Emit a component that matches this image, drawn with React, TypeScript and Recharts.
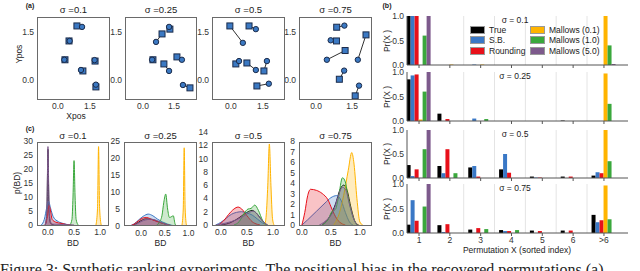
import React from 'react';
import { ScatterChart, Scatter, XAxis, YAxis, ComposedChart, Area, BarChart, Bar, ReferenceLine } from 'recharts';

const FONT = '"Liberation Sans", Arial, Helvetica, sans-serif';
const TICK = { fontSize: 8.5, fill: '#333', fontFamily: FONT };

// ---------- shared ----------
const sigmaTitles = ['σ =0.1', 'σ =0.25', 'σ =0.5', 'σ =0.75'];
const sigmaTitlesB = ['σ = 0.1', 'σ = 0.25', 'σ = 0.5', 'σ = 0.75'];
const seriesKeys = ['tr', 'sb', 'rd', 'm01', 'm1', 'm5'];
const seriesNames = ['True', 'S.B.', 'Rounding', 'Mallows (0.1)', 'Mallows (1.0)', 'Mallows (5.0)'];
const seriesColors = ['#000000', '#3a78c6', '#e8101a', '#ffb400', '#3aa83c', '#7d5a8c'];

// ---------- (a) positions ----------
const posTicks = [0, 1.5];
const trueXs = [
  [0.89, 0.52, 0.33, 1.74, 1.17, 1.78],
  [0.92, 1.30, 0.48, 1.01, 1.64, 2.27],
  [-0.05, 0.85, 0.23, 0.75, 1.55, 1.22],
  [0.86, 0.85, 1.21, 2.08, 0.97, 1.63],
];
const trueYs = [
  [1.69, 1.22, 0.63, 0.59, 0.28, -0.22],
  [1.44, 1.59, 0.63, 0.50, 0.72, -0.25],
  [1.69, 1.69, 0.50, 0.53, 0.28, -0.19],
  [1.65, 1.22, 0.92, 1.41, 0.02, -0.50],
];
const estXs = [
  [1.13, 0.55, 0.30, 1.72, 1.08, 1.78],
  [0.63, 1.26, 0.44, 1.26, 1.88, 1.93],
  [0.56, 1.17, 0.38, 1.17, 1.69, 1.78],
  [1.18, 0.61, 0.45, 1.74, 1.17, 1.79],
];
const estYs = [
  [1.66, 1.22, 0.63, 0.62, 0.31, -0.15],
  [1.19, 1.66, 0.63, 0.28, 0.63, -0.16],
  [1.16, 1.59, 0.59, 0.31, 0.59, -0.12],
  [1.70, 1.24, 0.63, 0.63, 0.29, -0.18],
];

// ---------- (c) BD densities: [BD, density] ----------
const kdeTrue = [
  [[-0.05, 0], [-0.02, 4], [0, 27], [0.02, 5], [0.05, 0.6], [0.12, 0]],
  [[-0.2, 0], [-0.1, 0.7], [0, 1.6], [0.1, 2.1], [0.2, 2.0], [0.3, 1.6], [0.4, 1.1], [0.5, 0.6], [0.6, 0.2], [0.7, 0]],
  [[0, 0], [0.2, 0.4], [0.35, 1.1], [0.5, 1.9], [0.6, 2.2], [0.68, 1.8], [0.78, 0.8], [0.88, 0]],
  [[0.35, 0], [0.48, 0.8], [0.58, 2.0], [0.66, 3.4], [0.72, 3.8], [0.78, 3.3], [0.85, 1.6], [0.92, 0.3], [0.98, 0]],
];
const kdeSB = [
  [[-0.13, 0], [-0.07, 2], [-0.02, 6.5], [0.01, 8.5], [0.05, 6], [0.1, 3], [0.2, 1.2], [0.3, 0.5], [0.4, 0]],
  [[-0.25, 0], [-0.15, 0.6], [-0.05, 1.8], [0.05, 2.9], [0.15, 3.5], [0.25, 3.0], [0.35, 2.0], [0.45, 1.2], [0.55, 0.6], [0.65, 0.2], [0.75, 0]],
  [[-0.1, 0], [0, 0.4], [0.1, 1.0], [0.2, 1.6], [0.3, 1.9], [0.4, 2.0], [0.5, 1.8], [0.6, 1.5], [0.7, 0.9], [0.8, 0.3], [0.9, 0]],
  [[0, 0], [0.1, 0.5], [0.25, 1.3], [0.4, 2.1], [0.5, 2.6], [0.6, 2.8], [0.68, 2.3], [0.75, 1.2], [0.82, 0.3], [0.88, 0]],
];
const kdeRound = [
  [[-0.06, 0], [-0.01, 3], [0.02, 7], [0.05, 5], [0.08, 2], [0.15, 1], [0.25, 0.6], [0.35, 0.2], [0.45, 0]],
  [[-0.25, 0], [-0.15, 0.5], [-0.05, 1.6], [0.05, 2.4], [0.12, 2.5], [0.2, 2.1], [0.3, 1.5], [0.4, 1.0], [0.5, 0.6], [0.6, 0.2], [0.7, 0]],
  [[-0.05, 0], [0.05, 0.6], [0.15, 1.6], [0.25, 2.4], [0.33, 2.7], [0.4, 2.4], [0.5, 1.4], [0.6, 0.5], [0.7, 0.1], [0.75, 0]],
  [[0, 0], [0.05, 1.2], [0.1, 2.8], [0.15, 3.4], [0.25, 3.3], [0.35, 3.0], [0.45, 2.4], [0.52, 1.5], [0.6, 0.6], [0.7, 0.1], [0.75, 0]],
];
const kdeM01 = [
  [[0.92, 0], [0.95, 6], [0.97, 28], [0.99, 6], [1.02, 0]],
  [[0.86, 0], [0.89, 5], [0.91, 23], [0.93, 5], [0.96, 0]],
  [[0.84, 0], [0.87, 1.5], [0.9, 6], [0.93, 12.2], [0.96, 6], [0.99, 1], [1.02, 0]],
  [[0.55, 0], [0.65, 1.2], [0.72, 2.8], [0.8, 5.2], [0.86, 6.9], [0.9, 5.8], [0.95, 2.5], [1.0, 0.3], [1.05, 0]],
];
const kdeM1 = [
  [[0.42, 0], [0.46, 2], [0.48, 10], [0.5, 23], [0.52, 10], [0.54, 2], [0.58, 0]],
  [[0.3, 0], [0.38, 1], [0.44, 3], [0.48, 7], [0.52, 9.4], [0.56, 5], [0.6, 2.5], [0.65, 2.8], [0.68, 3], [0.72, 0.5], [0.76, 0]],
  [[0.25, 0], [0.35, 0.5], [0.45, 1.8], [0.52, 2.4], [0.58, 2.5], [0.65, 3.0], [0.72, 2.2], [0.8, 0.7], [0.88, 0]],
  [[0.35, 0], [0.45, 0.5], [0.52, 1.3], [0.58, 1.5], [0.63, 2.6], [0.7, 4.5], [0.75, 4.1], [0.8, 2.6], [0.88, 0.8], [0.95, 0]],
];
const kdeM5 = [
  [[-0.05, 0], [-0.02, 6], [0, 28], [0.02, 8], [0.05, 1], [0.1, 0.3], [0.3, 0.2], [0.5, 0]],
  [[-0.2, 0], [-0.1, 0.5], [0, 1.3], [0.1, 1.8], [0.2, 2.0], [0.3, 1.8], [0.4, 1.2], [0.5, 0.6], [0.6, 0.2], [0.7, 0]],
  [[-0.1, 0], [0.1, 0.3], [0.3, 0.8], [0.45, 1.4], [0.55, 1.9], [0.62, 2.1], [0.7, 1.6], [0.8, 0.6], [0.9, 0]],
  [[0.3, 0], [0.45, 0.6], [0.55, 1.4], [0.62, 2.6], [0.7, 3.6], [0.76, 3.3], [0.82, 2.0], [0.9, 0.5], [0.96, 0]],
];
const kdeAll = [kdeTrue, kdeSB, kdeRound, kdeM01, kdeM1, kdeM5];
const bdTicks = [0, 0.5, 1];
const densTicks = [
  [0, 5, 10, 15, 20, 25, 30],
  [0, 5, 10, 15, 20, 25],
  [0, 2, 4, 6, 8, 10, 12, 14],
  [0, 1, 2, 3, 4, 5, 6, 7, 8],
];

// ---------- (b) Pr(X) ----------
const permX = [1, 2, 3, 4, 5, 6, 7];
const permTickLabels = ['1', '2', '3', '4', '5', '6', '>6'];
const prTrue = [
  [1.0, 0, 0, 0, 0, 0, 0],
  [0.85, 0.15, 0, 0, 0, 0.01, 0],
  [0.27, 0.25, 0.22, 0.18, 0.03, 0.03, 0.05],
  [0.17, 0.16, 0.07, 0.06, 0.05, 0.05, 0.37],
];
const prSB = [
  [1.0, 0, 0.01, 0, 0, 0, 0],
  [0.93, 0, 0.05, 0, 0, 0, 0],
  [0.04, 0.1, 0.25, 0.5, 0.01, 0, 0.12],
  [0.67, 0.02, 0, 0.04, 0, 0, 0.22],
];
const prRound = [
  [1.0, 0, 0, 0, 0, 0, 0],
  [0.95, 0.04, 0, 0, 0, 0, 0],
  [0.18, 0.6, 0.03, 0.11, 0.01, 0.03, 0.1],
  [0.25, 0.18, 0.1, 0.04, 0.04, 0.05, 0.26],
];
const prM01 = [
  [0, 0.01, 0.01, 0, 0, 0, 1.0],
  [0.03, 0, 0, 0, 0, 0, 0.97],
  [0, 0, 0, 0, 0, 0, 1.0],
  [0, 0, 0, 0, 0, 0, 0.97],
];
const prM1 = [
  [0.6, 0, 0, 0, 0, 0, 0.4],
  [0.6, 0, 0.04, 0, 0, 0, 0.35],
  [0.6, 0.1, 0, 0, 0, 0, 0.35],
  [0.54, 0, 0.08, 0.06, 0, 0, 0.28],
];
const prM5 = [
  [1.0, 0, 0, 0, 0, 0, 0.02],
  [1.0, 0, 0, 0, 0, 0, 0],
  [1.0, 0, 0, 0, 0, 0, 0],
  [1.0, 0, 0, 0, 0, 0, 0],
];
const prAll = [prTrue, prSB, prRound, prM01, prM1, prM5];
const prTicks = [0, 0.5, 1];
const gridX = [2.45, 3.45, 4.45, 5.45, 6.45];

// ---------- layout (page px) ----------
const A_FRAMES = [[37, 17, 110, 100], [125, 17, 197, 100], [212, 17, 285, 100], [299, 17, 372, 100]];
const A_XDOM = [[-0.98, 2.44], [-0.87, 2.61], [-0.89, 2.54], [-0.71, 2.33]];
const A_YDOM = [-0.63, 1.97];
const C_FRAMES = [[37, 142, 109, 226], [124, 142, 197, 226], [212, 142, 285, 226], [299, 142, 372, 226]];
const C_PLOTS = [[37, 141, 109, 225], [124, 141, 197, 226], [212, 132, 285, 225], [299, 141, 372, 225]];
const C_XDOM = [[-0.21, 1.17], [-0.36, 1.18], [-0.17, 1.23], [-0.05, 1.21]];
const B_PLOTS = [[407, 16, 628, 65], [407, 72, 628, 121], [407, 130, 628, 178], [407, 184, 628, 233]];

const fmt1 = (v: number) => v.toFixed(1);

function Frame({ r }: { r: number[] }) {
  return (
    <div style={{ position: 'absolute', left: r[0], top: r[1], width: r[2] - r[0], height: r[3] - r[1], border: '1px solid #6a6a6a', boxSizing: 'border-box', pointerEvents: 'none' }} />
  );
}

function Txt({ x, y, children, size = 8.5, rot = 0, weight = 400, color = '#222' }: any) {
  return (
    <div style={{ position: 'absolute', left: x, top: y, transform: `translate(-50%,-50%) rotate(${rot}deg)`, fontSize: size, fontWeight: weight, color, whiteSpace: 'nowrap', fontFamily: FONT, lineHeight: 1 }}>
      {children}
    </div>
  );
}

const SquareShape = (p: any) => (
  <rect x={p.cx - 3} y={p.cy - 3} width={6} height={6} fill="#3b79c3" stroke="#1b2b4a" strokeWidth={1} />
);
const CircleShape = (p: any) => (
  <circle cx={p.cx} cy={p.cy} r={2.7} fill="#3b79c3" stroke="#1b2b4a" strokeWidth={1} />
);
const NoShape = () => <g />;

const PT = 8;

function ScatterPanel({ i }: { i: number }) {
  const [x0, y0, x1, y1] = A_FRAMES[i];
  const PL = 30, PR = 2, PB = 16;
  const sq = trueXs[i].map((x, k) => ({ x, y: trueYs[i][k] }));
  const ci = estXs[i].map((x, k) => ({ x, y: estYs[i][k] }));
  return (
    <div style={{ position: 'absolute', left: x0 - PL, top: y0 - PT }}>
      <ScatterChart width={x1 - x0 + PL + PR} height={y1 - y0 + PT + PB} margin={{ top: PT, right: PR, bottom: 0, left: 0 }}>
        <XAxis type="number" dataKey="x" domain={A_XDOM[i]} ticks={posTicks} tickFormatter={fmt1} axisLine={false} tickLine={false} tickSize={0} tickMargin={3} height={PB} tick={TICK} allowDataOverflow interval={0} />
        <YAxis type="number" dataKey="y" domain={A_YDOM} ticks={posTicks} tickFormatter={fmt1} axisLine={false} tickLine={false} tickSize={0} tickMargin={3} width={PL} tick={TICK} allowDataOverflow interval={0} />
        {sq.map((p, k) => (
          <Scatter key={'l' + k} data={[p, ci[k]]} line={{ stroke: '#1a1a1a', strokeWidth: 0.9 }} shape={NoShape} isAnimationActive={false} />
        ))}
        <Scatter data={sq} shape={SquareShape} isAnimationActive={false} />
        <Scatter data={ci} shape={CircleShape} isAnimationActive={false} />
      </ScatterChart>
    </div>
  );
}

function kdeRows(s: number) {
  const map = new Map<number, any>();
  seriesKeys.forEach((k, j) => {
    kdeAll[j][s].forEach(([x, y]) => {
      const r = map.get(x) || { x };
      r[k] = y;
      map.set(x, r);
    });
  });
  return Array.from(map.values()).sort((a, b) => a.x - b.x);
}

function KdePanel({ i }: { i: number }) {
  const [x0, y0, x1, y1] = C_PLOTS[i];
  const PL = 30, PR = 2, PB = 16;
  const ticks = densTicks[i];
  return (
    <div style={{ position: 'absolute', left: x0 - PL, top: y0 - PT }}>
      <ComposedChart width={x1 - x0 + PL + PR} height={y1 - y0 + PT + PB} margin={{ top: PT, right: PR, bottom: 0, left: 0 }} data={kdeRows(i)}>
        <XAxis type="number" dataKey="x" domain={C_XDOM[i]} ticks={bdTicks} tickFormatter={fmt1} axisLine={false} tickLine={false} tickSize={0} tickMargin={4} height={PB} tick={TICK} allowDataOverflow interval={0} />
        <YAxis type="number" domain={[0, ticks[ticks.length - 1]]} ticks={ticks} axisLine={false} tickLine={false} tickSize={0} tickMargin={4} width={PL} tick={TICK} allowDataOverflow interval={0} />
        {seriesKeys.map((k, j) => (
          <Area key={k} dataKey={k} type="monotone" stroke={seriesColors[j]} strokeWidth={1} fill={j === 0 ? '#555' : seriesColors[j]} fillOpacity={0.25} connectNulls dot={false} activeDot={false} isAnimationActive={false} />
        ))}
      </ComposedChart>
    </div>
  );
}

function prRows(s: number) {
  return permX.map((x, idx) => {
    const r: any = { x };
    seriesKeys.forEach((k, j) => { r[k] = prAll[j][s][idx]; });
    return r;
  });
}

function BarPanel({ i }: { i: number }) {
  const [x0, y0, x1, y1] = B_PLOTS[i];
  const bottom = i === 3;
  const PL = 30, PR = 4, PB = bottom ? 14 : 5;
  return (
    <div style={{ position: 'absolute', left: x0 - PL, top: y0 - PT }}>
      <BarChart width={x1 - x0 + PL + PR} height={y1 - y0 + PT + PB} margin={{ top: PT, right: PR, bottom: 0, left: 0 }} data={prRows(i)} barGap={0} barSize={4}>
        {gridX.map((g) => (
          <ReferenceLine key={g} x={g} stroke="#e4e4e4" strokeWidth={1} />
        ))}
        <XAxis type="number" dataKey="x" domain={[0.61, 7.78]} ticks={permX} interval={0} allowDataOverflow
          tickFormatter={(v: number) => (bottom ? permTickLabels[v - 1] : '')}
          axisLine={{ stroke: '#555' }} tickLine={{ stroke: '#555' }} tickSize={3} tickMargin={1} height={PB} tick={TICK} />
        <YAxis type="number" domain={[0, 1]} ticks={prTicks} tickFormatter={fmt1} interval={0} allowDataOverflow
          axisLine={{ stroke: '#555' }} tickLine={false} tickSize={0} tickMargin={3} width={PL} tick={TICK} />
        {seriesKeys.map((k, j) => (
          <Bar key={k} dataKey={k} fill={seriesColors[j]} isAnimationActive={false} />
        ))}
      </BarChart>
    </div>
  );
}

function BarLegend() {
  const cols = [[0, 1, 2], [3, 4, 5]];
  const colX = [470, 530];
  return (
    <>
      {cols.map((c, ci) => c.map((j, r) => (
        <div key={j} style={{ position: 'absolute', left: colX[ci], top: 25.5 + r * 10.7, display: 'flex', alignItems: 'center', fontFamily: FONT, fontSize: 8.5, color: '#222', lineHeight: 1 }}>
          <span style={{ display: 'inline-block', width: 13, height: 6, background: seriesColors[j], border: '0.5px solid #999', marginRight: 4 }} />
          <span>{seriesNames[j]}</span>
        </div>
      )))}
    </>
  );
}

export default function App() {
  return (
    <div style={{ position: 'absolute', left: 0, top: 0, width: 640, height: 271, background: '#fff', overflow: 'hidden', fontFamily: FONT }}>
      {/* (a) */}
      <Txt x={30} y={5} size={7} weight={700}>(a)</Txt>
      {A_FRAMES.map((r, i) => <Txt key={'at' + i} x={(r[0] + r[2]) / 2} y={10} size={9.5}>{sigmaTitles[i]}</Txt>)}
      {A_FRAMES.map((_, i) => <ScatterPanel key={'a' + i} i={i} />)}
      {A_FRAMES.map((r, i) => <Frame key={'af' + i} r={r} />)}
      <Txt x={76} y={116} size={8.5}>Xpos</Txt>
      <Txt x={19} y={54} size={8.5} rot={-90}>Ypos</Txt>

      {/* (c) */}
      <Txt x={30} y={128} size={7} weight={700}>(c)</Txt>
      {C_FRAMES.map((r, i) => <Txt key={'ct' + i} x={(r[0] + r[2]) / 2} y={135.5} size={9.5}>{sigmaTitles[i]}</Txt>)}
      {C_FRAMES.map((_, i) => <KdePanel key={'c' + i} i={i} />)}
      {C_FRAMES.map((r, i) => <Frame key={'cf' + i} r={r} />)}
      {C_FRAMES.map((r, i) => <Txt key={'cx' + i} x={(r[0] + r[2]) / 2} y={243} size={8.5}>BD</Txt>)}
      <Txt x={17} y={183} size={8.5} rot={-90}>p(BD)</Txt>

      {/* (b) */}
      <Txt x={387} y={5} size={7} weight={700}>(b)</Txt>
      {B_PLOTS.map((_, i) => <BarPanel key={'b' + i} i={i} />)}
      {B_PLOTS.map((r, i) => <Txt key={'bt' + i} x={515} y={r[1] + 3.5} size={8.5}>{sigmaTitlesB[i]}</Txt>)}
      {B_PLOTS.map((r, i) => <Txt key={'by' + i} x={387} y={(r[1] + r[3]) / 2} size={8.5} rot={-90}>Pr(X )</Txt>)}
      <BarLegend />
      <Txt x={517} y={250} size={8.5}>Permutation X  (sorted index)</Txt>

      {/* caption (clipped) */}
      <div style={{ position: 'absolute', left: 0, top: 260, fontFamily: '"Liberation Serif", "DejaVu Serif", serif', fontSize: 16, color: '#222', whiteSpace: 'nowrap', lineHeight: 1.2 }}>
        Figure 3: Synthetic ranking experiments. The positional bias in the recovered permutations (a)
      </div>
    </div>
  );
}
